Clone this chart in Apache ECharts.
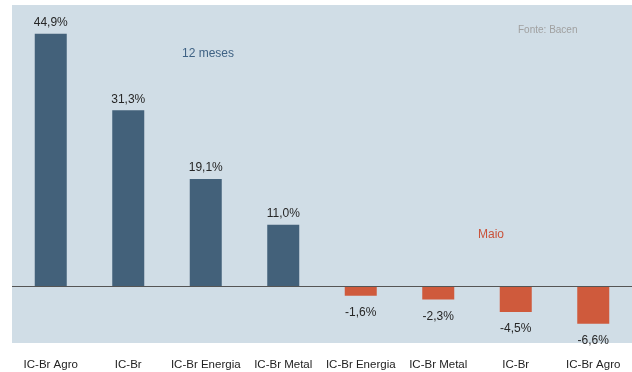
<!DOCTYPE html>
<html>
<head>
<meta charset="utf-8">
<script src="https://cdn.jsdelivr.net/npm/echarts@6/dist/echarts.min.js"></script>
<style>
  html, body { margin: 0; padding: 0; background: #ffffff; }
  #chart { width: 632px; height: 372px; }
</style>
</head>
<body>
<div id="chart"></div>
<script>
// IC-Br commodity index: 12-month change vs. monthly (May) change
const categories = ['IC-Br Agro', 'IC-Br', 'IC-Br Energia', 'IC-Br Metal',
                    'IC-Br Energia', 'IC-Br Metal', 'IC-Br', 'IC-Br Agro'];
const values = [44.9, 31.3, 19.1, 11.0, -1.6, -2.3, -4.5, -6.6];
const periods = ['12m', '12m', '12m', '12m', 'mes', 'mes', 'mes', 'mes'];

const periodColors = { '12m': '#43617a', 'mes': '#cf5a3c' };
const fmt = v => v.toFixed(1).replace('.', ',') + '%';
const FONT = 'Liberation Sans, Arial, sans-serif';

const chart = echarts.init(document.getElementById('chart'), null, { renderer: 'canvas' });

chart.setOption({
  animation: false,
  textStyle: { fontFamily: FONT },
  grid: {
    left: 12, right: 0, top: 5, bottom: 29,
    show: true, backgroundColor: '#d0dde6', borderWidth: 0
  },
  xAxis: {
    type: 'category',
    data: categories,
    position: 'bottom',
    axisLine: { show: false, onZero: false },
    axisTick: { show: false },
    axisLabel: { color: '#222', fontSize: 11.5, fontFamily: FONT, margin: 16, interval: 0 }
  },
  yAxis: {
    type: 'value',
    min: -10, max: 50,
    show: false,
    splitLine: { show: false }
  },
  series: [{
    type: 'bar',
    barWidth: 32,
    data: values.map((v, i) => ({
      value: v,
      itemStyle: { color: periodColors[periods[i]] },
      label: {
        show: true,
        position: v >= 0 ? 'top' : 'bottom',
        distance: v >= 0 ? 5 : 11
      }
    })),
    label: {
      color: '#262626', fontSize: 12, fontFamily: FONT,
      formatter: p => fmt(p.value)
    },
    markLine: {
      silent: true,
      symbol: 'none',
      label: { show: false },
      lineStyle: { color: '#555555', width: 1, type: 'solid' },
      data: [{ yAxis: 0 }]
    }
  }],
  graphic: [
    { type: 'text', left: 182, top: 48,
      style: { text: '12 meses', fill: '#3f6284', font: '12px ' + FONT } },
    { type: 'text', left: 478, top: 229,
      style: { text: 'Maio', fill: '#c9523a', font: '12px ' + FONT } },
    { type: 'text', left: 518, top: 25,
      style: { text: 'Fonte: Bacen', fill: '#a0a0a0', font: '10px ' + FONT } }
  ]
});
</script>
</body>
</html>
